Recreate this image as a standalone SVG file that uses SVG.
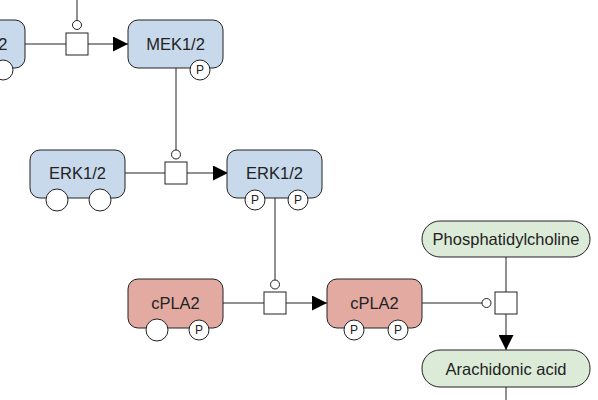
<svg xmlns="http://www.w3.org/2000/svg" width="598" height="400" viewBox="0 0 598 400">
<defs>
<marker id="arr" viewBox="0 0 10 10" refX="10" refY="5" markerWidth="15" markerHeight="15" markerUnits="userSpaceOnUse" orient="auto">
<path d="M0,0 L10,5 L0,10 Z" fill="#000"/>
</marker>
</defs>
<style>
.blue{fill:#c8d9ec;stroke:#222;stroke-width:1}
.red{fill:#e3aaa2;stroke:#222;stroke-width:1}
.green{fill:#dcebd8;stroke:#222;stroke-width:1}
.st{fill:#fff;stroke:#222;stroke-width:1}
.ln{fill:none;stroke:#222;stroke-width:1}
.lbl{font-family:"Liberation Sans",Arial,sans-serif;font-size:16.5px;fill:#222;text-anchor:middle;dominant-baseline:central}
.p{font-family:"Liberation Sans",Arial,sans-serif;font-size:12px;fill:#222;text-anchor:middle;dominant-baseline:central}
</style>
<rect width="598" height="400" fill="#fff"/>
<g id="connectors">
<line class="ln" x1="25" y1="44" x2="66" y2="44"/>
<line class="ln" x1="88" y1="44" x2="128" y2="44" marker-end="url(#arr)"/>
<line class="ln" x1="77" y1="0" x2="77" y2="20"/>
<circle class="st" cx="77" cy="25" r="4.5"/>
<rect class="st" x="66" y="33" width="22" height="22"/>

<line class="ln" x1="125" y1="173" x2="165" y2="173"/>
<line class="ln" x1="187" y1="173" x2="228" y2="173" marker-end="url(#arr)"/>
<line class="ln" x1="176" y1="68" x2="176" y2="150"/>
<circle class="st" cx="176" cy="154.5" r="4.5"/>
<rect class="st" x="165" y="162" width="22" height="22"/>

<line class="ln" x1="223" y1="303" x2="264" y2="303"/>
<line class="ln" x1="286" y1="303" x2="327" y2="303" marker-end="url(#arr)"/>
<line class="ln" x1="275" y1="197" x2="275" y2="280"/>
<circle class="st" cx="275" cy="284.5" r="4.5"/>
<rect class="st" x="264" y="292" width="22" height="22"/>

<line class="ln" x1="422" y1="303" x2="482" y2="303"/>
<circle class="st" cx="486.5" cy="303" r="4.5"/>
<line class="ln" x1="506" y1="257" x2="506" y2="292"/>
<line class="ln" x1="506" y1="314" x2="506" y2="350" marker-end="url(#arr)"/>
<rect class="st" x="495" y="292" width="22" height="22"/>
<line class="ln" x1="506" y1="387" x2="506" y2="400"/>
</g>
<g id="node-left-top">
<rect class="blue" x="-70" y="20" width="95" height="48" rx="10"/>
<text class="lbl" x="-22" y="44">MEK1/2</text>
<circle class="st" cx="3" cy="70" r="10"/>
</g>
<g id="node-mek">
<rect class="blue" x="128" y="20" width="95" height="48" rx="10"/>
<text class="lbl" x="175.5" y="44">MEK1/2</text>
<circle class="st" cx="200" cy="70" r="10"/>
<text class="p" x="200" y="70">P</text>
</g>
<g id="node-erk-left">
<rect class="blue" x="30" y="150" width="95" height="48" rx="10"/>
<text class="lbl" x="77.5" y="173">ERK1/2</text>
<circle class="st" cx="57" cy="200" r="11"/>
<circle class="st" cx="100" cy="200" r="11"/>
</g>
<g id="node-erk-right">
<rect class="blue" x="227" y="150" width="95" height="48" rx="10"/>
<text class="lbl" x="274.5" y="173">ERK1/2</text>
<circle class="st" cx="255" cy="200" r="10"/>
<text class="p" x="255" y="200">P</text>
<circle class="st" cx="298" cy="200" r="10"/>
<text class="p" x="298" y="200">P</text>
</g>
<g id="node-cpla2-left">
<rect class="red" x="128" y="279" width="95" height="49" rx="10"/>
<text class="lbl" x="175.5" y="303">cPLA2</text>
<circle class="st" cx="157" cy="330" r="11"/>
<circle class="st" cx="199" cy="330" r="10"/>
<text class="p" x="199" y="330">P</text>
</g>
<g id="node-cpla2-right">
<rect class="red" x="327" y="279" width="95" height="49" rx="10"/>
<text class="lbl" x="374.5" y="303">cPLA2</text>
<circle class="st" cx="354" cy="330" r="10"/>
<text class="p" x="354" y="330">P</text>
<circle class="st" cx="398" cy="330" r="10"/>
<text class="p" x="398" y="330">P</text>
</g>
<g id="node-pc">
<rect class="green" x="422" y="221" width="168" height="36" rx="18"/>
<text class="lbl" x="506" y="239">Phosphatidylcholine</text>
</g>
<g id="node-aa">
<rect class="green" x="422" y="350" width="168" height="37" rx="18"/>
<text class="lbl" x="506" y="368.5">Arachidonic acid</text>
</g>
</svg>
